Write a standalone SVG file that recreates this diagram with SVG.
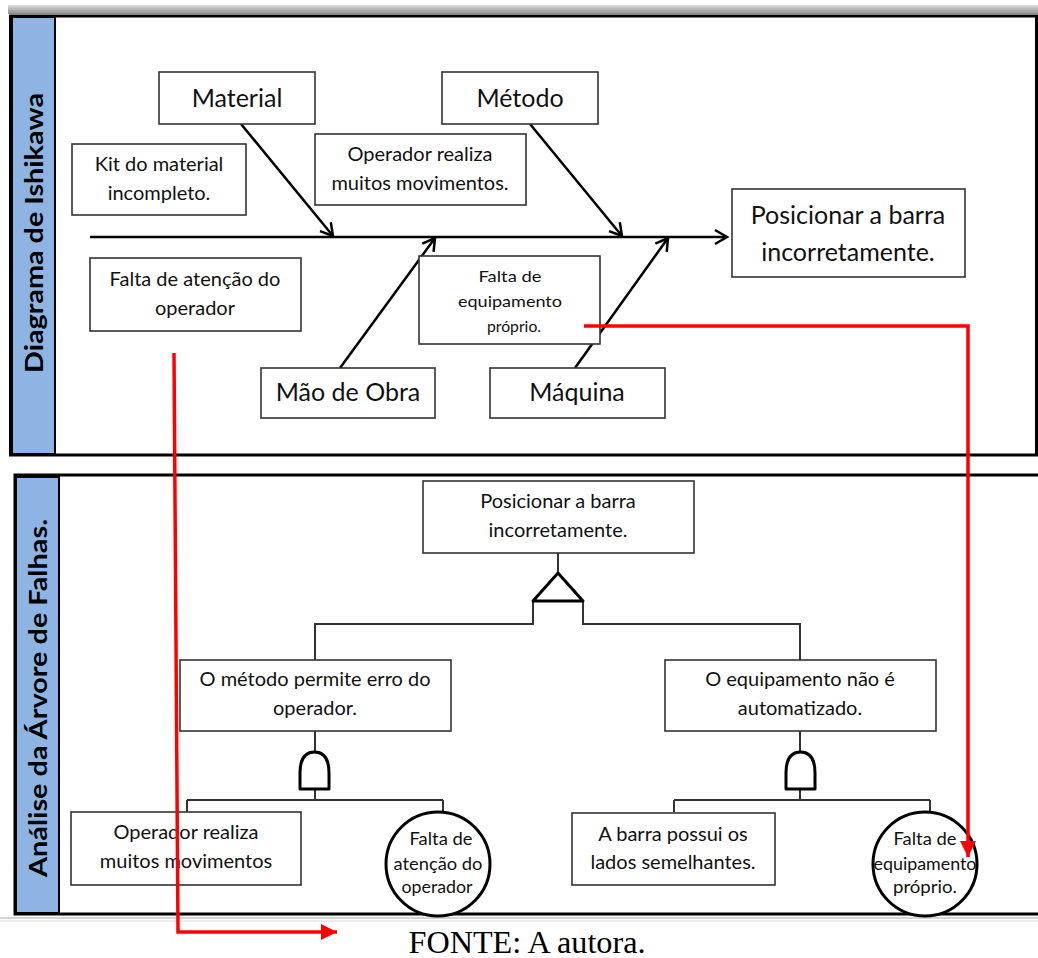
<svg xmlns="http://www.w3.org/2000/svg" width="1038" height="958" viewBox="0 0 1038 958">
<defs>
<linearGradient id="band" x1="0" y1="0" x2="0" y2="1">
<stop offset="0" stop-color="#dcdcdc"/><stop offset="1" stop-color="#8c8c8c"/>
</linearGradient>
<marker id="chev" markerUnits="userSpaceOnUse" markerWidth="20" markerHeight="20" refX="14" refY="8" orient="auto" viewBox="0 0 20 16">
<polyline points="2,1 14,8 2,15" fill="none" stroke="#000" stroke-width="2.5"/>
</marker>
<marker id="redhead" markerUnits="userSpaceOnUse" markerWidth="18" markerHeight="18" refX="16" refY="8" orient="auto" viewBox="0 0 18 16">
<polygon points="0,0 16,8 0,16" fill="#ff0000"/>
</marker>
</defs>
<style>
.box{fill:#fff;stroke:#333;stroke-width:1.6}
.t{font-family:Lato,"Liberation Sans",sans-serif;fill:#111;text-anchor:middle}
.big{font-size:25px}
.med{font-size:20px}
.sm{font-size:16px}
.circ{font-size:18px}
.side{fill:#8db4e2;stroke:#000;stroke-width:2}
.lbl{font-family:Lato,"Liberation Sans",sans-serif;font-weight:bold;font-size:25px;fill:#000;text-anchor:middle}
.arr{stroke:#000;stroke-width:2.5;fill:none;marker-end:url(#chev)}
.tree{stroke:#333;stroke-width:2;fill:none}
.gate{stroke:#000;stroke-width:3;fill:#fff;stroke-linejoin:round}
.red{stroke:#ff0000;stroke-width:3.5;fill:none;marker-end:url(#redhead)}
.cap{font-family:"Liberation Serif",serif;font-size:31px;fill:#000;text-anchor:middle}
</style>
<rect width="1038" height="958" fill="#fff"/>
<rect x="8" y="5" width="1030" height="9" fill="url(#band)"/>
<!-- Top frame -->
<rect x="10.5" y="16" width="1026" height="439" fill="#fff" stroke="#000" stroke-width="3"/>
<rect class="side" x="12" y="17" width="43" height="437"/>
<text class="lbl" transform="translate(43,233) rotate(-90)" textLength="280" lengthAdjust="spacingAndGlyphs">Diagrama de Ishikawa</text>
<!-- Bottom frame -->
<path d="M1038,475 H15 V914 H1038" fill="#fff" stroke="#000" stroke-width="3"/>
<rect class="side" x="16" y="477" width="43" height="436"/>
<text class="lbl" transform="translate(47,698) rotate(-90)" textLength="358" lengthAdjust="spacingAndGlyphs">Análise da Árvore de Falhas.</text>
<line x1="0" y1="918" x2="1038" y2="918" stroke="#aaa" stroke-width="1"/>
<line x1="0" y1="921" x2="1038" y2="921" stroke="#d8d8d8" stroke-width="1"/>

<g id="connectors">
<line class="arr" x1="90" y1="237" x2="727" y2="237"/>
<line class="arr" x1="241" y1="124" x2="333" y2="236"/>
<line class="arr" x1="530" y1="124" x2="622" y2="236"/>
<line class="arr" x1="340" y1="368" x2="435" y2="238"/>
<line class="arr" x1="575" y1="368" x2="668" y2="238"/>
<!-- fault tree lines -->
<path class="tree" d="M558,553 V573"/>
<path class="tree" d="M533,601 V624 H315 V660"/>
<path class="tree" d="M583,601 V624 H800 V660"/>
<path class="tree" d="M315,731 V752 M315,789 V800 M187,800 H443 M187,800 V812 M443,800 V811"/>
<path class="tree" d="M800,731 V752 M800,789 V800 M674,800 H930 M674,800 V812 M930,800 V811"/>
</g>

<g id="or-gate"><path class="gate" d="M558,573 L583,601 H533 Z"/></g>
<g id="and-gate-left"><path class="gate" d="M300,789 V773 Q300,752 314.5,752 Q329,752 329,773 V789 Z"/></g>
<g id="and-gate-right"><path class="gate" d="M786,789 V773 Q786,752 800.5,752 Q815,752 815,773 V789 Z"/></g>

<g id="material"><rect class="box" x="159" y="72" width="156" height="52"/><text class="t big" x="237" y="107">Material</text></g>
<g id="metodo"><rect class="box" x="442" y="72" width="156" height="52"/><text class="t big" x="520" y="107">Método</text></g>
<g id="kit"><rect class="box" x="72" y="144" width="174" height="71"/><text class="t med" x="159" y="171">Kit do material</text><text class="t med" x="159" y="200">incompleto.</text></g>
<g id="operador-top"><rect class="box" x="315" y="134" width="211" height="71"/><text class="t med" x="420" y="161">Operador realiza</text><text class="t med" x="420" y="190">muitos movimentos.</text></g>
<g id="falta-atencao-top"><rect class="box" x="90" y="258" width="211" height="73"/><text class="t med" x="195" y="286">Falta de atenção do</text><text class="t med" x="195" y="315">operador</text></g>
<g id="falta-equip-top"><rect class="box" x="419" y="256" width="181" height="88"/><text class="t sm" x="510" y="282" textLength="63" lengthAdjust="spacingAndGlyphs">Falta de</text><text class="t sm" x="510" y="307" textLength="104" lengthAdjust="spacingAndGlyphs">equipamento</text><text class="t sm" x="514" y="332" textLength="54" lengthAdjust="spacingAndGlyphs">próprio.</text></g>
<g id="mao-de-obra"><rect class="box" x="261" y="368" width="174" height="50"/><text class="t big" x="348" y="401">Mão de Obra</text></g>
<g id="maquina"><rect class="box" x="490" y="368" width="175" height="50"/><text class="t big" x="577" y="401">Máquina</text></g>
<g id="efeito"><rect class="box" x="732" y="189" width="233" height="88"/><text class="t big" x="848" y="224">Posicionar a barra</text><text class="t big" x="848" y="261">incorretamente.</text></g>

<g id="topo"><rect class="box" x="423" y="481" width="271" height="72"/><text class="t med" x="558" y="508">Posicionar  a barra</text><text class="t med" x="558" y="537">incorretamente.</text></g>
<g id="metodo-erro"><rect class="box" x="180" y="660" width="271" height="71"/><text class="t med" x="315" y="686">O método permite erro do</text><text class="t med" x="315" y="715">operador.</text></g>
<g id="equip-auto"><rect class="box" x="665" y="660" width="271" height="71"/><text class="t med" x="800" y="686">O equipamento  não é</text><text class="t med" x="800" y="715">automatizado.</text></g>
<g id="operador-bottom"><rect class="box" x="71" y="812" width="230" height="73"/><text class="t med" x="186" y="839">Operador realiza</text><text class="t med" x="186" y="868">muitos movimentos</text></g>
<g id="falta-atencao-bottom"><circle cx="438" cy="864" r="52" fill="#fff" stroke="#000" stroke-width="3"/><text class="t circ" x="441" y="845" textLength="63" lengthAdjust="spacingAndGlyphs">Falta de</text><text class="t circ" x="438" y="870" textLength="89" lengthAdjust="spacingAndGlyphs">atenção do</text><text class="t circ" x="437" y="893" textLength="71" lengthAdjust="spacingAndGlyphs">operador</text></g>
<g id="barra-lados"><rect class="box" x="572" y="813" width="203" height="72"/><text class="t med" x="673" y="841">A barra possui  os</text><text class="t med" x="673" y="869">lados semelhantes.</text></g>
<g id="falta-equip-bottom"><circle cx="925" cy="864" r="52" fill="#fff" stroke="#000" stroke-width="3"/><text class="t circ" x="925" y="845" textLength="63" lengthAdjust="spacingAndGlyphs">Falta de</text><text class="t circ" x="925" y="870" textLength="103" lengthAdjust="spacingAndGlyphs">equipamento</text><text class="t circ" x="925" y="893" textLength="64" lengthAdjust="spacingAndGlyphs">próprio.</text></g>

<g id="red-connectors">
<path class="red" d="M584,326 H968 V857"/>
<path class="red" d="M174,353 L178,932 H337"/>
</g>

<text class="cap" x="527" y="953" textLength="237" lengthAdjust="spacingAndGlyphs">FONTE: A autora.</text>
</svg>
